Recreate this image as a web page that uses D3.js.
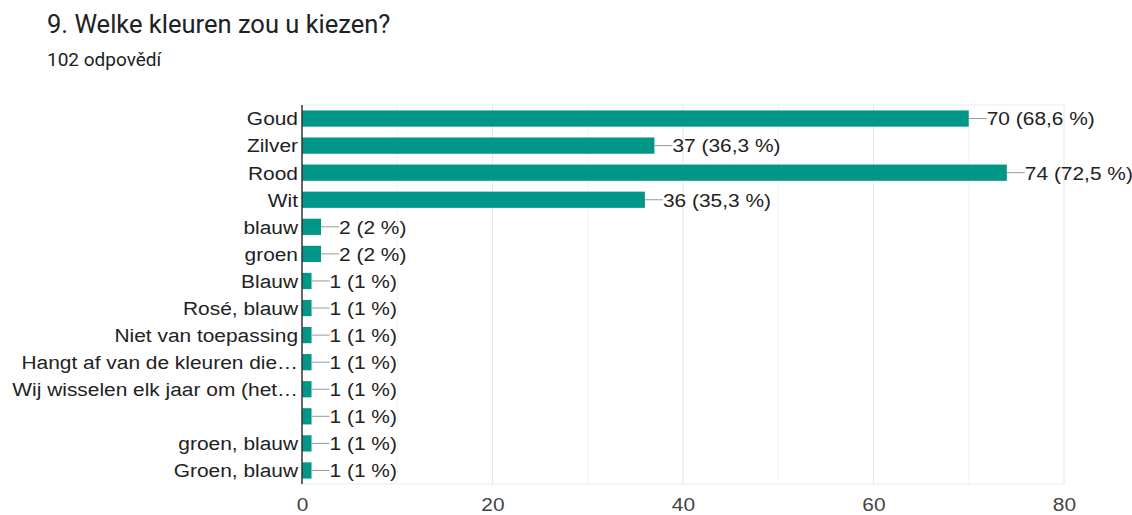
<!DOCTYPE html>
<meta charset="utf-8">
<title>Welke kleuren</title>
<style>
body { margin: 0; background: #fff; font-family: Roboto, "Liberation Sans", Arial, sans-serif; }
svg { display: block; }
</style>
<svg id="chart"></svg>
<script src="https://cdn.jsdelivr.net/npm/d3@7"></script>
<script>
var categories = ["Goud", "Zilver", "Rood", "Wit", "blauw", "groen", "Blauw", "Rosé, blauw",
	"Niet van toepassing", "Hangt af van de kleuren die…", "Wij wisselen elk jaar om (het…",
	"", "groen, blauw", "Groen, blauw"];
var counts = [70, 37, 74, 36, 2, 2, 1, 1, 1, 1, 1, 1, 1, 1];
var percents = ["68,6", "36,3", "72,5", "35,3", "2", "2", "1", "1", "1", "1", "1", "1", "1", "1"];
var ticks = [0, 20, 40, 60, 80];
var minorTicks = [10, 30, 50, 70];

var width = 1132, height = 515;
var mLeft = 302, mRight = 1064, mTop = 105, mBottom = 484;
var chartFont = '"Liberation Sans", Arial, sans-serif';
// chart texts in the picture are a bit wider than they are tall
var stretch = 'scale(1.1,1)';

var svg = d3.select('#chart').attr('width', width).attr('height', height);

svg.append('text').attr('x', 47).attr('y', 33)
	.attr('font-size', 25.5).attr('fill', '#202124')
	.text('9. Welke kleuren zou u kiezen?');
svg.append('text').attr('x', 47).attr('y', 66)
	.attr('font-size', 19).attr('fill', '#202124')
	.text('102 odpovědí');

var x = d3.scaleLinear().domain([0, 80]).range([mLeft, mRight]);
var y = d3.scaleBand().domain(d3.range(categories.length)).range([mTop, mBottom]).paddingInner(0.4).paddingOuter(0.2);
var cy = i => y(i) + y.bandwidth() / 2;

var grid = svg.append('g');
grid.selectAll('line.minor').data(minorTicks).enter().append('line')
	.attr('x1', d => x(d)).attr('x2', d => x(d)).attr('y1', mTop).attr('y2', mBottom)
	.attr('stroke', '#f3f3f3').attr('stroke-width', 1);
grid.selectAll('line.major').data(ticks.slice(1)).enter().append('line')
	.attr('x1', d => x(d)).attr('x2', d => x(d)).attr('y1', mTop).attr('y2', mBottom)
	.attr('stroke', '#e6e6e6').attr('stroke-width', 1);
grid.append('line').attr('x1', mLeft).attr('x2', mRight).attr('y1', mTop).attr('y2', mTop)
	.attr('stroke', '#ebebeb');
grid.append('line').attr('x1', mLeft).attr('x2', mRight).attr('y1', mBottom).attr('y2', mBottom)
	.attr('stroke', '#ebebeb');

var xAxis = svg.append('g').attr('transform', 'translate(0,' + mBottom + ')')
	.call(d3.axisBottom(x).tickValues(ticks).tickSize(0).tickPadding(14));
xAxis.select('.domain').remove();
xAxis.selectAll('text').attr('font-size', 19).attr('fill', '#444')
	.attr('font-family', chartFont).attr('transform', stretch);

var rows = svg.append('g').selectAll('g').data(counts).enter().append('g');

rows.append('rect')
	.attr('x', x(0)).attr('y', (d, i) => y(i))
	.attr('width', d => x(d) - x(0)).attr('height', y.bandwidth())
	.attr('fill', '#009688');

rows.append('line')
	.attr('x1', d => x(d)).attr('x2', d => x(d) + 18)
	.attr('y1', (d, i) => cy(i)).attr('y2', (d, i) => cy(i))
	.attr('stroke', '#999').attr('stroke-width', 1);

rows.append('text')
	.attr('transform', (d, i) => 'translate(' + (x(d) + 18) + ',' + cy(i) + ') ' + stretch)
	.attr('dy', '0.36em').attr('font-size', 19).attr('fill', '#222')
	.attr('font-family', chartFont)
	.text((d, i) => d + ' (' + percents[i] + ' %)');

rows.append('text')
	.attr('transform', (d, i) => 'translate(' + (mLeft - 4) + ',' + cy(i) + ') ' + stretch)
	.attr('dy', '0.36em').attr('text-anchor', 'end').attr('font-size', 19).attr('fill', '#222')
	.attr('font-family', chartFont)
	.text((d, i) => categories[i]);

svg.append('line').attr('x1', mLeft).attr('x2', mLeft).attr('y1', mTop).attr('y2', mBottom)
	.attr('stroke', '#333').attr('stroke-width', 1.5);
</script>
